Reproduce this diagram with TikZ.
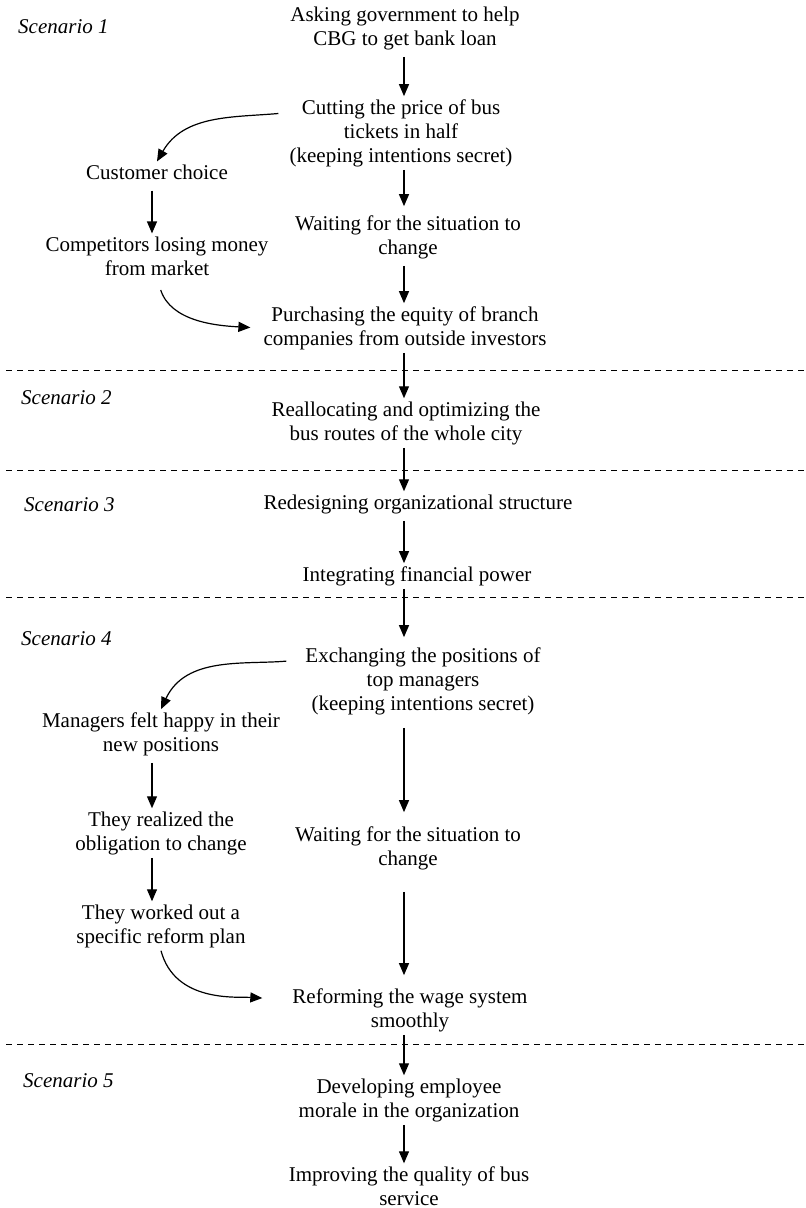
\documentclass[tikz,border=0pt]{standalone}
\usepackage{fontspec}
\setmainfont{Liberation Serif}
\usetikzlibrary{arrows.meta}

\begin{document}
\begin{tikzpicture}[x=1pt,y=1pt,
	every node/.style={font=\fontsize{21}{24}\selectfont, align=center, inner sep=3pt},
	scen/.style={font=\fontsize{21}{24}\selectfont\itshape, anchor=west},
	arr/.style={-{Triangle[length=12pt,width=10pt]}, line width=1.2pt},
	sep/.style={dash pattern=on 6pt off 5pt, line width=0.9pt}]
				\useasboundingbox (0,0) rectangle (806,-1208);
				
				\coordinate (spine) at (404,0);
				\coordinate (lspine) at (152,0);
				
				\draw[sep] (6,-370) -- (806,-370);
				\draw[sep] (6,-470) -- (806,-470);
				\draw[sep] (6,-597) -- (806,-597);
				\draw[sep] (6,-1044) -- (806,-1044);
				
				\node[scen] (s1) at (15,-27) {Scenario 1};
				\node[scen] (s2) at (18,-398) {Scenario 2};
				\node[scen] (s3) at (21,-505) {Scenario 3};
				\node[scen] (s4) at (18,-639) {Scenario 4};
				\node[scen] (s5) at (20,-1081) {Scenario 5};
				
				\node (n1) at (405,-28) {Asking government to help\\CBG to get bank loan};
				\node (n2) at (401,-133) {Cutting the price of bus\\tickets in half\\(keeping intentions secret)};
				\node (n3) at (408,-237) {Waiting for the situation to\\change};
				\node (n4) at (405,-328) {Purchasing the equity of branch\\companies from outside investors};
				\node (n5) at (406,-423) {Reallocating and optimizing the\\bus routes of the whole city};
				\node (n6) at (418,-504) {Redesigning organizational structure};
				\node (n7) at (417,-576) {Integrating financial power};
				\node (n8) at (423,-681) {Exchanging the positions of\\top managers\\(keeping intentions secret)};
				\node (n9) at (408,-848) {Waiting for the situation to\\change};
				\node (n10) at (410,-1010) {Reforming the wage system\\smoothly};
				\node (n11) at (409,-1100) {Developing employee\\morale in the organization};
				\node (n12) at (409,-1186) {Improving the quality of bus\\service};
				
				\node (c1) at (157,-172) {Customer choice};
				\node (c2) at (157,-256) {Competitors losing money\\from market};
				
				\node (m1) at (161,-734) {Managers felt happy in their\\new positions};
				\node (m2) at (161,-833) {They realized the\\obligation to change};
				\node (m3) at (161,-926) {They worked out a\\specific reform plan};
				
				\draw[arr, shorten <=4pt] (n1.south -| spine) -- (n2.north -| spine);
				\draw[arr, shorten >=6pt] (n2.south -| spine) -- (n3.north -| spine);
				\draw[arr, shorten <=4pt] (n3.south -| spine) -- (n4.north -| spine);
				\draw[arr] (n4.south -| spine) -- (n5.north -| spine);
				\draw[arr] (n5.south -| spine) -- (n6.north -| spine);
				\draw[arr, shorten <=4pt] (n6.south -| spine) -- (n7.north -| spine);
				\draw[arr, shorten >=7pt] (n7.south -| spine) -- (n8.north -| spine);
				\draw[arr, shorten <=10pt, shorten >=11pt] (n8.south -| spine) -- (n9.north -| spine);
				\draw[arr, shorten <=19pt, shorten >=10pt] (n9.south -| spine) -- (n10.north -| spine);
				\draw[arr] (n10.south -| spine) -- (n11.north -| spine);
				\draw[arr] (n11.south -| spine) -- (n12.north -| spine);
				
				\draw[arr, shorten <=8pt] (c1.south -| lspine) -- (c2.north -| lspine);
				\draw[arr, shorten <=4pt] (m1.south -| lspine) -- (m2.north -| lspine);
				\draw[arr] (m2.south -| lspine) -- (m3.north -| lspine);
				
				\draw[arr, shorten <=8pt] (n2.170) to[out=185, in=60] (c1.north);
				\draw[arr, shorten <=12pt, shorten >=10pt] (c2.south) to[out=-72, in=177] (n4.west);
				\draw[arr, shorten <=16pt] (n8.170) to[out=185, in=65] (m1.north);
				\draw[arr, shorten >=27pt] (m3.south) to[out=-75, in=177] (n10.175);
			\end{tikzpicture}
\end{document}
